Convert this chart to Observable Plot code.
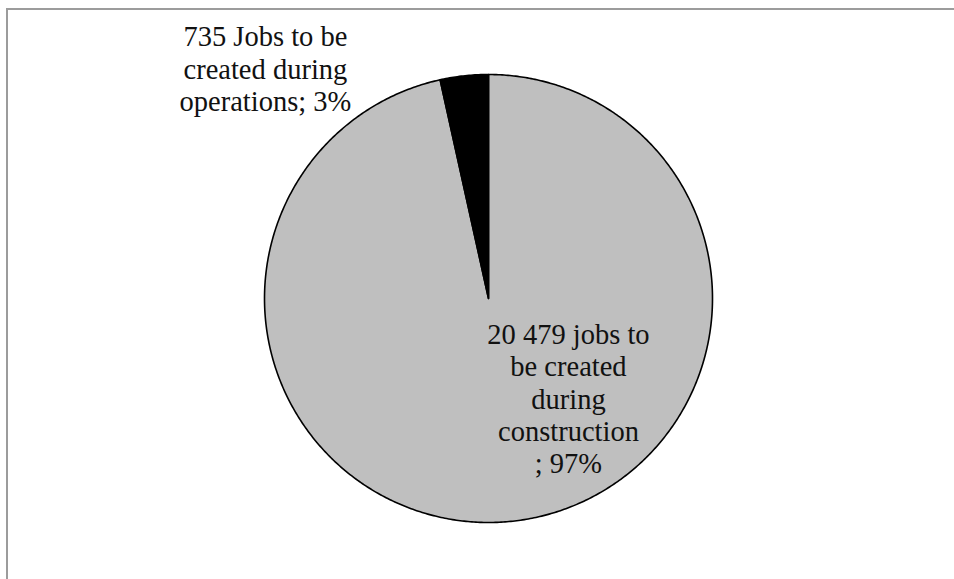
<!DOCTYPE html>
<html><head><meta charset="utf-8">
<script src="https://cdn.jsdelivr.net/npm/d3@7"></script>
<script src="https://cdn.jsdelivr.net/npm/@observablehq/plot@0.6"></script>
<style>
html,body{margin:0;padding:0;background:#fff;}
#wrap{position:relative;width:954px;height:579px;overflow:hidden;}
#wrap svg{position:absolute;left:0;top:0;}
#frame{position:absolute;left:6px;top:8px;width:960px;height:600px;border-top:2.5px solid #9c9c9c;border-left:2.5px solid #9c9c9c;}
</style></head><body><div id="wrap"></div>
<script>
// Data
const categories = ["construction", "operations"];
const jobs = [20479, 735];
const labels = [
  "20 479 jobs to\nbe created\nduring\nconstruction\n; 97%",
  "735 Jobs to be\ncreated during\noperations; 3%"
];
const colors = ["#bfbfbf", "#000000"];

// Build slice outlines in unit-circle data space from the pie angles
const arcs = d3.pie().sort(null).startAngle(0).endAngle(2 * Math.PI)(jobs);
const outline = [];
arcs.forEach((a, i) => {
  const name = categories[i];
  outline.push({name, x: 0, y: 0});
  const n = Math.max(4, Math.ceil((a.endAngle - a.startAngle) / (Math.PI / 360)));
  for (let k = 0; k <= n; k++) {
    const t = a.startAngle + (a.endAngle - a.startAngle) * k / n;
    outline.push({name, x: Math.sin(t), y: Math.cos(t)});
  }
});

const labelData = [
  {text: labels[0], x: 0.357, y: -0.446},
  {text: labels[1], x: -0.996, y: 1.027}
];

const chart = Plot.plot({
  width: 954,
  height: 579,
  marginLeft: 264,
  marginRight: 242,
  marginTop: 74,
  marginBottom: 57,
  x: {domain: [-1, 1], axis: null},
  y: {domain: [-1, 1], axis: null},
  color: {domain: categories, range: colors},
  style: {background: "transparent", overflow: "visible"},
  marks: [
    Plot.line(outline, {
      x: "x", y: "y", z: "name", fill: "name",
      stroke: "#000", strokeWidth: 1.6, strokeLinejoin: "round",
      curve: "linear-closed"
    }),
    Plot.text(labelData, {
      x: "x", y: "y", text: "text",
      fontFamily: "Liberation Serif", fontSize: 28.5, lineHeight: 1.134,
      fill: "#111", textAnchor: "middle", lineAnchor: "middle"
    })
  ]
});
const wrap = document.getElementById("wrap");
wrap.appendChild(chart);
const frame = document.createElement("div");
frame.id = "frame";
wrap.appendChild(frame);
</script>
</body></html>
